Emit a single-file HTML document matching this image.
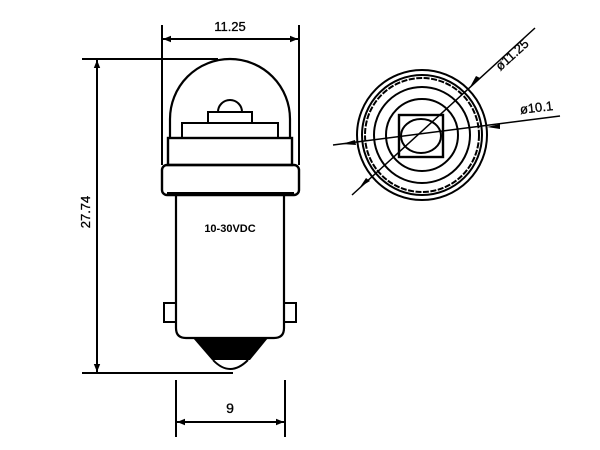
<!DOCTYPE html>
<html><head><meta charset="utf-8"><style>
html,body{margin:0;padding:0;background:#fff;}
svg{display:block;}
text{font-family:"Liberation Sans",sans-serif;fill:#000;}
</style></head><body>
<svg width="600" height="450" viewBox="0 0 600 450" xmlns="http://www.w3.org/2000/svg">
<defs>
<marker id="a" viewBox="0 0 10 10" refX="10" refY="5" markerWidth="6" markerHeight="4" orient="auto-start-reverse"><path d="M0,1 L10,5 L0,9 z" fill="#000"/></marker>
</defs>
<g stroke="#000" fill="none" stroke-width="2">
<line x1="162" y1="25" x2="162" y2="165"/>
<line x1="299" y1="25" x2="299" y2="165"/>
<line x1="163" y1="39" x2="298" y2="39" marker-start="url(#a)" marker-end="url(#a)"/>
<line x1="82" y1="59" x2="218" y2="59"/>
<line x1="82" y1="373" x2="233" y2="373"/>
<line x1="97" y1="60" x2="97" y2="372" marker-start="url(#a)" marker-end="url(#a)"/>
<path d="M170,138 L170,119 A60,60 0 0 1 290,119 L290,138" stroke-width="2.2"/>
<rect x="182" y="123" width="96" height="15"/>
<rect x="208" y="112" width="44" height="11"/>
<path d="M218,112 A12,12 0 0 1 242,112"/>
<rect x="168" y="138" width="124" height="27" stroke-width="2.4"/>
<rect x="162" y="165" width="137" height="30" rx="5" stroke-width="2.4"/>
<line x1="167" y1="193" x2="294" y2="193"/>
<path d="M176,195 L176,328 Q176,338 186,338 L274,338 Q284,338 284,328 L284,195" stroke-width="2.2"/>
<rect x="164" y="303" width="12" height="19"/>
<rect x="284" y="303" width="12" height="19"/>
<path d="M213,360 Q230,378 248,360"/>
<line x1="176" y1="380" x2="176" y2="437"/>
<line x1="285" y1="380" x2="285" y2="437"/>
<line x1="177" y1="422" x2="284" y2="422" marker-start="url(#a)" marker-end="url(#a)"/>
<circle cx="422" cy="135" r="65"/>
<circle cx="422" cy="135" r="60"/>
<circle cx="422" cy="135" r="57" stroke-dasharray="6 1.5"/>
<circle cx="422" cy="135" r="48"/>
<circle cx="422" cy="135" r="36"/>
<rect x="399" y="115" width="44" height="42" stroke-width="2.4"/>
<ellipse cx="421" cy="136" rx="20" ry="17"/>
<line x1="352" y1="195" x2="535" y2="28" stroke-width="1.5"/>
<line x1="333" y1="145" x2="560" y2="116" stroke-width="1.5"/>
</g>
<path d="M193,338 L268,338 L250,360 L212,360 Z" fill="#000"/>
<path d="M342,144 L355,140 L356,145 Z M487,127 L500,124 L500,129 Z" fill="#000"/>
<path d="M360,187 L370,181 L366,178 Z M470,87 L480,78 L476,76 Z" fill="#000"/>
<text x="230" y="31" font-size="13" text-anchor="middle" stroke="#000" stroke-width="0.3">11.25</text>
<text x="230" y="232" font-size="11" font-weight="bold" text-anchor="middle">10-30VDC</text>
<text x="230" y="413" font-size="14" text-anchor="middle" stroke="#000" stroke-width="0.3">9</text>
<text transform="translate(90,212) rotate(-90)" font-size="13" text-anchor="middle" stroke="#000" stroke-width="0.3">27.74</text>
<text transform="translate(515,58) rotate(-42)" font-size="13" text-anchor="middle" stroke="#000" stroke-width="0.3">ø11.25</text>
<text transform="translate(537,112) rotate(-7)" font-size="13" text-anchor="middle" stroke="#000" stroke-width="0.3">ø10.1</text>
</svg>
</body></html>
